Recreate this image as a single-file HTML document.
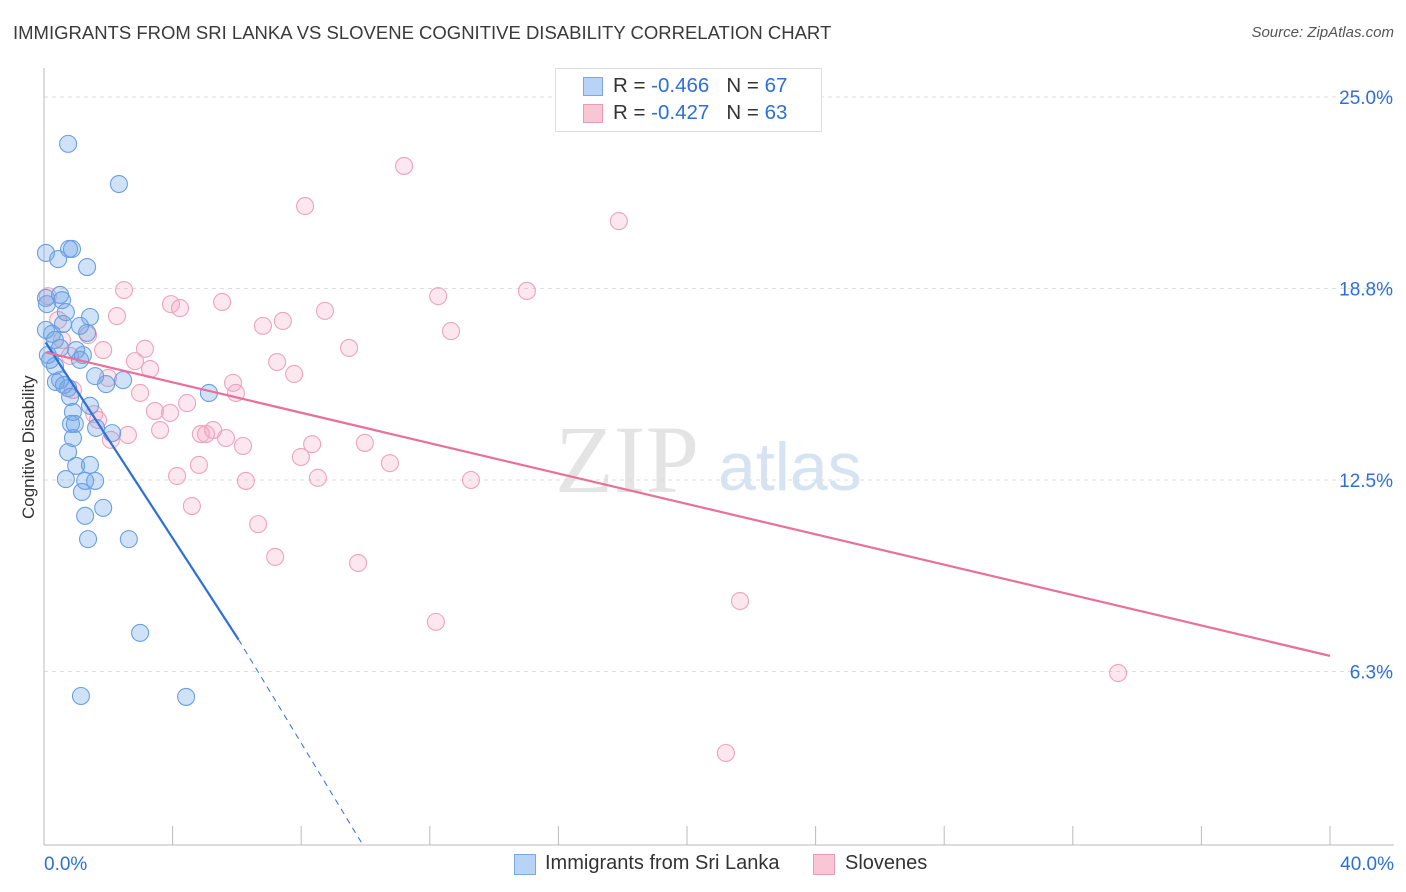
<!DOCTYPE html>
<html><head><meta charset="utf-8">
<style>
body{margin:0;background:#fff;font-family:"Liberation Sans",sans-serif;}
#wrap{position:relative;width:1406px;height:892px;overflow:hidden;}
.t{position:absolute;white-space:nowrap;}
</style></head>
<body>
<div id="wrap">
<div class="t" style="left:13px;top:22px;font-size:18.5px;color:#3a3a3a;">IMMIGRANTS FROM SRI LANKA VS SLOVENE COGNITIVE DISABILITY CORRELATION CHART</div>
<div class="t" style="right:12px;top:24px;font-size:15px;color:#555;font-style:italic;">Source: ZipAtlas.com</div>
<svg id="svg" width="1406" height="892" style="position:absolute;left:0;top:0">
<text x="555" y="492" font-family="Liberation Serif,serif" font-size="96" fill="#e4e4e4">ZIP</text>
<text x="718" y="490" font-family="Liberation Sans,sans-serif" font-size="68" fill="#d5e3f3">atlas</text>
</svg>
<div class="t" style="left:-36px;top:444px;font-size:17px;color:#333;transform:rotate(-90deg);transform-origin:center;width:130px;text-align:center;">Cognitive Disability</div>
<div style="position:absolute;left:555px;top:68px;width:265px;height:62px;border:1px solid #ddd;background:#fff;font-size:20.5px;color:#333;">
 <div style="position:absolute;left:27px;top:8px;width:18px;height:17px;background:#b7d3f5;border:1px solid #7aaae6;"></div>
 <div class="t" style="left:57px;top:5px;">R = <span style="color:#2d6fd6">-0.466</span> &nbsp;&nbsp;N = <span style="color:#2d6fd6">67</span></div>
 <div style="position:absolute;left:27px;top:35px;width:18px;height:17px;background:#f9c6d6;border:1px solid #eb9ab6;"></div>
 <div class="t" style="left:57px;top:32px;">R = <span style="color:#2d6fd6">-0.427</span> &nbsp;&nbsp;N = <span style="color:#2d6fd6">63</span></div>
</div>
<div style="position:absolute;left:514px;top:854px;width:20px;height:19px;background:#b7d3f5;border:1px solid #7aaae6;"></div>
<div class="t" style="left:545px;top:852px;font-size:20px;color:#333;">Immigrants from Sri Lanka</div>
<div style="position:absolute;left:813px;top:854px;width:20px;height:19px;background:#f9c6d6;border:1px solid #eb9ab6;"></div>
<div class="t" style="left:845px;top:852px;font-size:20px;color:#333;">Slovenes</div>
</div>
<script>
const yTicks=[25,18.75,12.5,6.25];
const yTickLabels=["25.0%","18.8%","12.5%","6.3%"];
const xTickCount=10;
const xEdgeLabels=["0.0%","40.0%"];
const blueX=[0.75,2.33,0.06,0.78,0.87,0.44,1.34,0.06,0.50,0.56,0.09,1.43,0.59,0.68,0.25,1.12,1.34,0.12,1.00,1.21,1.12,0.34,1.59,2.46,1.93,0.37,0.50,0.62,0.75,0.81,5.13,0.90,1.43,0.84,0.96,1.62,0.90,2.12,0.75,1.00,1.43,0.68,1.28,1.59,1.18,1.84,1.28,1.37,2.64,2.99,1.15,4.42,0.06,0.34,0.19,0.50];
const blueY=[23.47,22.16,19.91,20.04,20.04,19.71,19.45,18.44,18.54,18.37,18.24,17.82,17.59,17.98,17.27,17.53,17.30,16.58,16.74,16.58,16.42,16.22,15.89,15.76,15.63,15.70,15.76,15.60,15.50,15.21,15.34,14.72,14.92,14.33,14.33,14.20,13.87,14.03,13.41,12.96,12.99,12.53,12.47,12.47,12.11,11.59,11.33,10.57,10.57,7.51,5.45,5.42,17.40,17.07,16.42,16.81];
const pinkX=[11.20,8.12,17.88,2.49,15.02,12.26,3.95,5.54,4.23,8.74,2.27,7.43,6.81,12.66,1.37,0.56,3.14,9.49,1.84,2.83,7.25,3.30,7.78,5.88,1.99,0.90,5.97,2.99,4.45,3.45,3.92,1.56,1.68,3.61,5.26,5.04,4.88,2.61,5.66,2.08,6.19,8.34,9.98,7.99,4.82,10.76,4.14,8.52,13.28,6.28,4.60,6.66,7.19,9.77,21.65,12.19,33.41,21.21,0.12,0.44,0.81];
const pinkY=[22.75,21.44,20.95,18.70,18.67,18.50,18.24,18.31,18.11,18.02,17.85,17.69,17.53,17.36,17.23,17.07,16.78,16.81,16.74,16.38,16.35,16.12,15.96,15.67,15.83,15.44,15.34,15.34,15.01,14.75,14.69,14.65,14.46,14.13,14.13,14.00,14.00,13.97,13.87,13.81,13.61,13.67,13.71,13.25,12.99,13.05,12.63,12.57,12.50,12.47,11.65,11.06,9.99,9.79,8.55,7.87,6.20,3.59,18.50,17.72,16.55];
const blueFit=[17.07,-1.616];
const pinkFit=[16.68,-0.248];
const X0=44,X1=1330,XMAX=40,Y0=863,PPY=30.64;
const sx=v=>X0+(X1-X0)*v/XMAX, sy=v=>Y0-v*PPY;
const svg=document.getElementById('svg');const NS='http://www.w3.org/2000/svg';
function mk(tag,attrs){const e=document.createElementNS(NS,tag);for(const k in attrs)e.setAttribute(k,attrs[k]);svg.appendChild(e);return e;}
yTicks.forEach((v,i)=>{
 const g=mk('line',{x1:X0,x2:1394,y1:sy(v),y2:sy(v),stroke:'#ddd','stroke-dasharray':'4,4'});
 
 
 const t=mk('text',{x:1393,y:sy(v)+7,'text-anchor':'end','font-size':19,fill:'#2d6fd6','font-family':'Liberation Sans,sans-serif'});
 t.textContent=yTickLabels[i];
 
 
});
let ax=mk('line',{x1:X0,x2:X0,y1:68,y2:845,stroke:'#bbb'});


ax=mk('line',{x1:X0,x2:1394,y1:845,y2:845,stroke:'#bbb'});


for(let i=0;i<=xTickCount;i++){
 const x=sx(XMAX*i/xTickCount);
 const t=mk('line',{x1:x,x2:x,y1:826,y2:845,stroke:'#bbb'});
 
 
}
[[0,'start',X0],[1,'end',1394]].forEach(([i,a,x])=>{
 const t=mk('text',{x:x,y:870,'text-anchor':a,'font-size':19,fill:'#2d6fd6','font-family':'Liberation Sans,sans-serif'});
 t.textContent=xEdgeLabels[i];
 
 
});
pinkX.forEach((v,i)=>{
 const c=mk('circle',{cx:sx(v),cy:sy(pinkY[i]),r:8.5,fill:'rgba(244,160,188,0.25)',stroke:'#eda3bd','stroke-width':1.1});
 
 
});
blueX.forEach((v,i)=>{
 const c=mk('circle',{cx:sx(v),cy:sy(blueY[i]),r:8.5,fill:'rgba(110,165,230,0.32)',stroke:'#6a9fe2','stroke-width':1.1});
 
 
});
const bxEnd=6.05, bxStop=9.92;
let l=mk('line',{x1:sx(0.05),y1:sy(blueFit[0]+blueFit[1]*0.05),x2:sx(bxEnd),y2:sy(blueFit[0]+blueFit[1]*bxEnd),stroke:'#2d6fd6','stroke-width':2.2});


l=mk('line',{x1:sx(bxEnd),y1:sy(blueFit[0]+blueFit[1]*bxEnd),x2:sx(bxStop),y2:845,stroke:'#2d6fd6','stroke-width':1,'stroke-dasharray':'6,5'});


l=mk('line',{x1:sx(0.05),y1:sy(pinkFit[0]+pinkFit[1]*0.05),x2:sx(40),y2:sy(pinkFit[0]+pinkFit[1]*40),stroke:'#e8709a','stroke-width':2.2});


</script>
</body></html>
